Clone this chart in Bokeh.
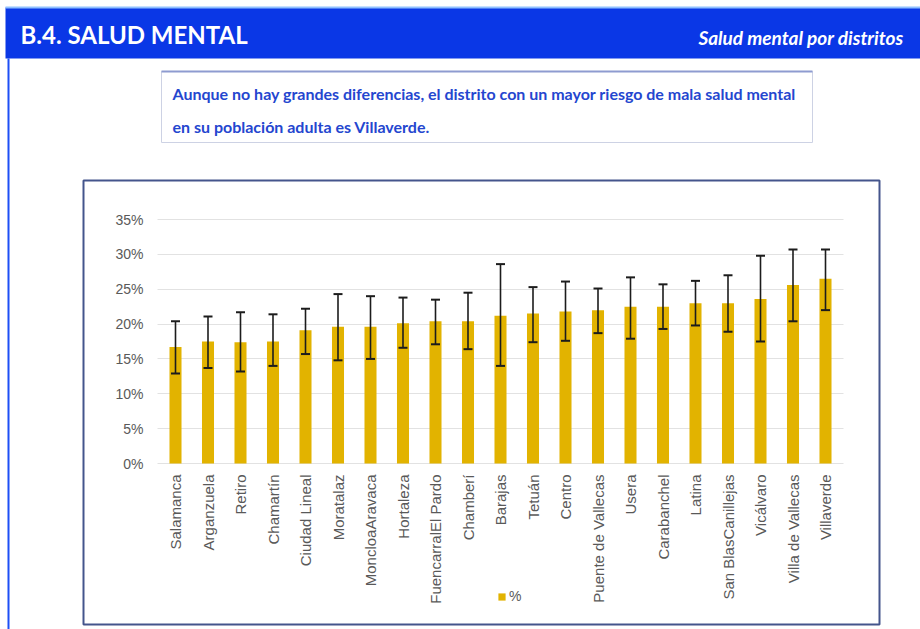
import math
from bokeh.plotting import figure
from bokeh.models import (ColumnDataSource, Range1d, FixedTicker, LinearAxis,
                          NumeralTickFormatter, Whisker, TeeHead, Legend, LegendItem)
from bokeh.core.properties import value
from bokeh.embed import file_html
from bokeh.resources import INLINE

districts = ["Salamanca", "Arganzuela", "Retiro", "Chamartín", "Ciudad Lineal",
             "Moratalaz", "MoncloaAravaca", "Hortaleza", "FuencarralEl Pardo",
             "Chamberí", "Barajas", "Tetuán", "Centro", "Puente de Vallecas",
             "Usera", "Carabanchel", "Latina", "San BlasCanillejas", "Vicálvaro",
             "Villa de Vallecas", "Villaverde"]
pct = [16.7, 17.5, 17.4, 17.5, 19.1, 19.6, 19.6, 20.1, 20.4, 20.4, 21.2,
       21.5, 21.8, 22.0, 22.5, 22.5, 23.0, 23.0, 23.6, 25.6, 26.5]
upper = [20.4, 21.1, 21.7, 21.4, 22.2, 24.3, 24.0, 23.8, 23.5, 24.5, 28.6,
         25.3, 26.1, 25.1, 26.7, 25.7, 26.2, 27.0, 29.8, 30.7, 30.7]
lower = [12.9, 13.7, 13.2, 14.0, 15.7, 14.8, 15.0, 16.6, 17.1, 16.4, 14.0,
         17.4, 17.6, 18.7, 17.9, 19.3, 19.8, 18.9, 17.5, 20.4, 22.0]
y_ticks = [0, 0.05, 0.10, 0.15, 0.20, 0.25, 0.30, 0.35]

header_title = "B.4. SALUD MENTAL"
header_sub = "Salud mental por distritos"
note_1 = "Aunque no hay grandes diferencias, el distrito con un mayor riesgo de mala salud mental"
note_2 = "en su población adulta es Villaverde."
legend_label = "%"

idx = list(range(len(districts)))
source = ColumnDataSource(dict(
    idx=idx,
    district=districts,
    value=[v / 100 for v in pct],
    upper=[v / 100 for v in upper],
    lower=[v / 100 for v in lower],
))

# ---- layout (pixels on the page) ----
W, H = 920, 629
X0, DX = 175, 32.5        # centre of first category, px per category
Y0, DY = 463, 244 / 0.35  # baseline (0%) and px per unit
GRID_L, GRID_R = 157, 843

p = figure(width=W, height=H, output_backend="svg", toolbar_location=None,
           x_range=Range1d((0 - X0) / DX, (W - X0) / DX),
           y_range=Range1d((Y0 - H) / DY, Y0 / DY),
           x_axis_type=None, y_axis_type=None, min_border=0)
p.outline_line_color = None
p.background_fill_color = "white"
p.border_fill_color = "white"
p.extra_x_ranges = {"px": Range1d(0, W)}
p.extra_y_ranges = {"px": Range1d(H, 0)}

PX = dict(x_range_name="px", y_range_name="px")

# header band, page border
p.quad(left=[5], right=[920], top=[7], bottom=[58], fill_color="#0a37e6",
       line_color=None, **PX)
p.quad(left=[5], right=[920], top=[6], bottom=[8], fill_color="#8fc0ff",
       line_color=None, **PX)
p.quad(left=[7], right=[9], top=[58], bottom=[629], fill_color="#1d4ff5",
       line_color=None, **PX)
p.text(x=[20], y=[34], text=[header_title], text_font=value("Lato"),
       text_font_style="bold", text_font_size="24px", text_color="white",
       text_baseline="middle", **PX)
p.text(x=[903], y=[37], text=[header_sub], text_font=value("Lato"),
       text_font_style="bold italic", text_font_size="19px", text_color="white",
       text_baseline="middle", text_align="right", **PX)

# note box
p.quad(left=[161], right=[812], top=[71], bottom=[142], fill_color="white",
       line_color="#cdd2e4", line_width=1, **PX)
p.quad(left=[161], right=[812], top=[70], bottom=[72], fill_color="#8e9bd0",
       line_color=None, **PX)
p.text(x=[172, 172], y=[93, 126], text=[note_1, note_2], text_font=value("Lato"),
       text_font_style="bold", text_font_size="16px", text_color="#2446cf",
       text_baseline="middle", **PX)

# chart frame
p.quad(left=[83], right=[879], top=[180], bottom=[624], fill_color=None,
       line_color="#44558c", line_width=2, **PX)

# y axis with ticks extended across the plot as gridlines
yaxis = LinearAxis(fixed_location=(GRID_L - X0) / DX,
                   ticker=FixedTicker(ticks=y_ticks),
                   formatter=NumeralTickFormatter(format="0%"),
                   major_tick_in=GRID_R - GRID_L, major_tick_out=0,
                   major_tick_line_color="#e2e2e2", major_tick_line_width=1,
                   minor_tick_line_color=None, axis_line_color=None,
                   major_label_standoff=14,
                   major_label_text_font="Liberation Sans",
                   major_label_text_font_size="14px",
                   major_label_text_color="#595959", level="underlay")
p.add_layout(yaxis, "left")

xaxis = LinearAxis(fixed_location=0, ticker=FixedTicker(ticks=idx),
                   major_label_overrides={i: d for i, d in zip(idx, districts)},
                   major_label_orientation=math.pi / 2,
                   major_tick_line_color=None, minor_tick_line_color=None,
                   axis_line_color=None, major_label_standoff=5,
                   major_label_text_font="Liberation Sans",
                   major_label_text_font_size="15px",
                   major_label_text_color="#595959")
p.add_layout(xaxis, "below")

bars = p.vbar(x="idx", top="value", width=0.37, source=source,
              fill_color="#e2b300", line_color=None)

wh = Whisker(source=source, base="idx", upper="upper", lower="lower",
             line_color="#1c1c1c", line_width=1.6, level="annotation",
             upper_head=TeeHead(size=9, line_color="#1c1c1c", line_width=2),
             lower_head=TeeHead(size=9, line_color="#1c1c1c", line_width=2))
p.add_layout(wh)

legend = Legend(items=[LegendItem(label=legend_label, renderers=[bars])],
                location=(497, H - 604), orientation="horizontal",
                glyph_width=9, glyph_height=9, label_standoff=3,
                label_text_font="Liberation Sans", label_text_font_size="14px",
                label_text_color="#595959", label_height=14,
                padding=0, margin=0, border_line_color=None,
                background_fill_alpha=0)
p.add_layout(legend)

open("out.html", "w").write(file_html(p, INLINE))
